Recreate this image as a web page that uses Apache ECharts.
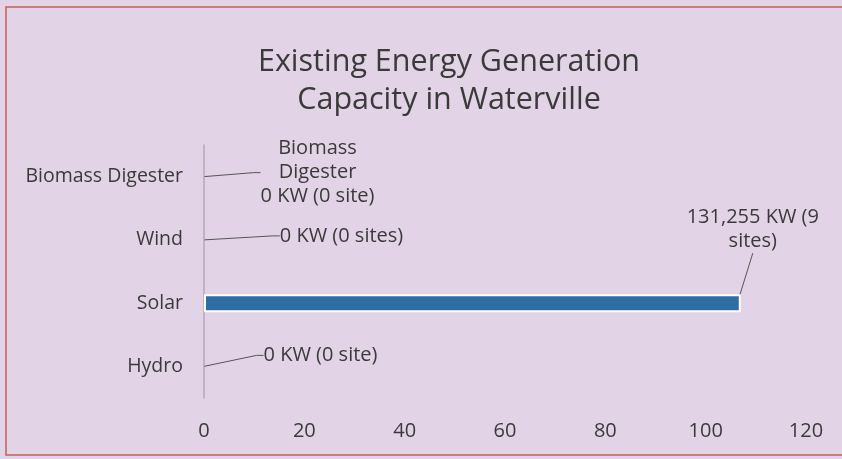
<!DOCTYPE html>
<html><head><meta charset="utf-8">
<script src="https://cdn.jsdelivr.net/npm/echarts@6/dist/echarts.min.js"></script>
<style>html,body{margin:0;padding:0;background:#e2d4e6;}#c{width:842px;height:459px;}</style>
</head><body><div id="c"></div>
<script>
var categories = ['Hydro', 'Solar', 'Wind', 'Biomass Digester'];
var capacity = [0, 107, 0, 0];
var labelTexts = ['0 KW (0 site)', '131,255 KW (9\nsites)', '0 KW (0 sites)', 'Biomass\nDigester\n0 KW (0 site)'];
var xTicks = { min: 0, max: 120, interval: 20 };

// label placement offsets (px) relative to the value point, per category
var labelOffsets = [[116, -11], [12, -74], [137, -4], [113, -4]];
var FONT = '"Open Sans", Lato, sans-serif';
var TXT = '#3a3a3a';

var barData = capacity.map(function (v) {
  return v === 0 ? { value: v, itemStyle: { borderWidth: 0 }, label: { show: false } } : v;
});
var zeroIdx = [];
capacity.forEach(function (v, i) { if (v === 0) zeroIdx.push(i); });
var zeroPoints = zeroIdx.map(function (i) { return [capacity[i], i]; });

var labelBase = {
  show: true, position: 'right', distance: 0, align: 'center', verticalAlign: 'middle',
  fontFamily: FONT, fontSize: 20, color: TXT, lineHeight: 24
};

var chart = echarts.init(document.getElementById('c'));
chart.setOption({
  backgroundColor: '#e2d4e6',
  animation: false,
  title: {
    text: 'Existing Energy Generation\nCapacity in Waterville',
    left: 444, top: 38, textAlign: 'center',
    textStyle: { fontFamily: FONT, fontSize: 30.5, fontWeight: 'normal', color: TXT, lineHeight: 38 }
  },
  graphic: [{
    type: 'rect', shape: { x: 6, y: 7, width: 860, height: 448 }, silent: true,
    style: { fill: 'none', stroke: '#c0605a', lineWidth: 1.5 }
  }],
  grid: { left: 204, right: 36, top: 145, bottom: 61 },
  xAxis: {
    type: 'value', min: xTicks.min, max: xTicks.max, interval: xTicks.interval,
    axisLine: { show: false }, axisTick: { show: false }, splitLine: { show: false },
    axisLabel: { margin: 23, fontFamily: FONT, fontSize: 20, color: TXT }
  },
  yAxis: {
    type: 'category', data: categories,
    axisLine: { lineStyle: { color: '#b4a8b8', width: 1.5 } },
    axisTick: { length: 4, lineStyle: { color: '#b4a8b8' } },
    axisLabel: { margin: 21, fontFamily: FONT, fontSize: 19.5, color: TXT }
  },
  series: [{
    type: 'bar', data: barData, barWidth: 18,
    itemStyle: { color: '#2e6ea5', borderColor: '#ffffff', borderWidth: 2 },
    label: Object.assign({}, labelBase, {
      formatter: function (p) { return labelTexts[p.dataIndex]; }
    }),
    labelLine: { show: true, lineStyle: { color: '#555555', width: 1 } },
    labelLayout: function (p) {
      var o = labelOffsets[p.dataIndex];
      return { dx: o[0], dy: o[1] };
    },
    z: 2
  }, {
    type: 'scatter', data: zeroPoints, symbolSize: 1,
    itemStyle: { color: 'rgba(0,0,0,0)', opacity: 1 },
    label: Object.assign({}, labelBase, {
      formatter: function (p) { return labelTexts[zeroIdx[p.dataIndex]]; }
    }),
    labelLine: { show: true, length2: 7, lineStyle: { color: '#555555', width: 1, opacity: 1 } },
    labelLayout: function (p) {
      var o = labelOffsets[zeroIdx[p.dataIndex]];
      return { dx: o[0], dy: o[1] };
    },
    z: 3
  }]
});
</script></body></html>
